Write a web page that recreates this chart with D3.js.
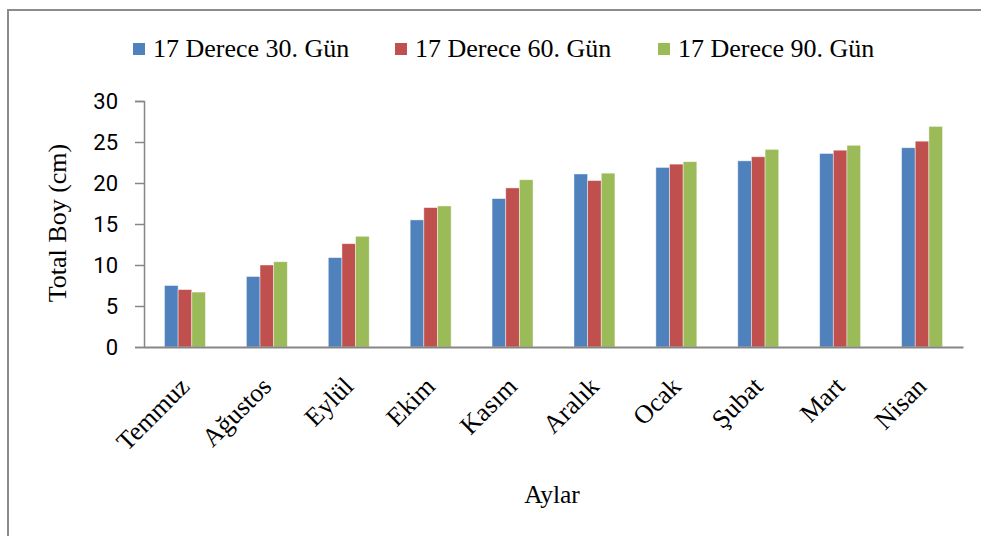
<!DOCTYPE html>
<html>
<head>
<meta charset="utf-8">
<script src="https://cdn.jsdelivr.net/npm/d3@7"></script>
<style>
  html, body { margin: 0; padding: 0; background: #fff; }
  svg { display: block; }
</style>
</head>
<body>
<svg id="chart" width="981" height="536"></svg>
<script>
const categories = ["Temmuz", "Ağustos", "Eylül", "Ekim", "Kasım", "Aralık", "Ocak", "Şubat", "Mart", "Nisan"];
const seriesNames = ["17 Derece 30. Gün", "17 Derece 60. Gün", "17 Derece 90. Gün"];
const series30 = [7.5, 8.6, 10.9, 15.5, 18.1, 21.1, 21.9, 22.7, 23.6, 24.3];
const series60 = [7.0, 10.0, 12.6, 17.0, 19.4, 20.3, 22.3, 23.2, 24.0, 25.1];
const series90 = [6.7, 10.4, 13.5, 17.2, 20.4, 21.2, 22.6, 24.1, 24.6, 26.9];
const yTicks = [0, 5, 10, 15, 20, 25, 30];
const colors = ["#4F81BD", "#C0504D", "#9BBB59"];

const allSeries = [series30, series60, series90];
const svg = d3.select("#chart");
const serif = "'Liberation Serif', 'Times New Roman', serif";
const sans = "Roboto, Arial, sans-serif";

// outer frame
svg.append("rect")
  .attr("x", 8).attr("y", 10)
  .attr("width", 1100).attr("height", 700)
  .attr("fill", "none").attr("stroke", "#8c8c8c").attr("stroke-width", 2);

const plot = { left: 144, right: 963, top: 101, bottom: 347 };

const x0 = d3.scaleBand().domain(categories)
  .range([plot.left, plot.right]).paddingInner(0.5).paddingOuter(0.25);
const x1 = d3.scaleBand().domain(d3.range(seriesNames.length))
  .range([0, x0.bandwidth()]);
const y = d3.scaleLinear().domain([0, 30]).range([plot.bottom, plot.top]);

// bars
const groups = svg.append("g").selectAll("g").data(categories).join("g")
  .attr("transform", d => `translate(${x0(d)},0)`);
groups.selectAll("rect")
  .data((d, i) => allSeries.map((s, k) => ({ k, v: s[i] })))
  .join("rect")
  .attr("x", d => x1(d.k))
  .attr("y", d => y(d.v))
  .attr("width", x1.bandwidth())
  .attr("height", d => y(0) - y(d.v))
  .attr("fill", d => colors[d.k])
  .attr("stroke", "#ffffff").attr("stroke-opacity", 0.55).attr("stroke-width", 0.8);

// y axis
const yAxis = d3.axisLeft(y).tickValues(yTicks).tickSize(9).tickPadding(17);
const yg = svg.append("g").attr("transform", `translate(${plot.left},0)`).call(yAxis);
yg.select(".domain").attr("stroke", "#868686").attr("stroke-width", 1.5);
yg.selectAll(".tick line").attr("stroke", "#868686").attr("stroke-width", 1.5);
yg.selectAll(".tick text").attr("font-family", sans).attr("font-size", 22).attr("fill", "#000");

// x axis line
const xAxis = d3.axisBottom(x0).tickSize(0).tickSizeOuter(0).tickFormat("");
const xg = svg.append("g").attr("transform", `translate(0,${plot.bottom})`).call(xAxis);
xg.select(".domain").attr("stroke", "#868686").attr("stroke-width", 2.2);

// x labels
svg.append("g").selectAll("text").data(categories).join("text")
  .attr("transform", d => `translate(${x0(d) + x0.bandwidth() / 2 + 6},${plot.bottom + 41}) rotate(-45)`)
  .attr("text-anchor", "end")
  .attr("font-family", serif).attr("font-size", 26).attr("fill", "#000")
  .text(d => d);

// axis titles
svg.append("text")
  .attr("transform", `translate(66,223) rotate(-90)`)
  .attr("text-anchor", "middle")
  .attr("font-family", serif).attr("font-size", 26).attr("fill", "#000")
  .text("Total Boy (cm)");
svg.append("text")
  .attr("x", 552).attr("y", 503)
  .attr("text-anchor", "middle")
  .attr("font-family", serif).attr("font-size", 25.5).attr("fill", "#000")
  .text("Aylar");

// legend
const legendX = [133, 395, 658];
const leg = svg.append("g").selectAll("g").data(seriesNames).join("g")
  .attr("transform", (d, i) => `translate(${legendX[i]},0)`);
leg.append("rect").attr("x", 0).attr("y", 43).attr("width", 12).attr("height", 12)
  .attr("fill", (d, i) => colors[i]);
leg.append("text").attr("x", 20).attr("y", 57)
  .attr("font-family", serif).attr("font-size", 26).attr("fill", "#000")
  .text(d => d);
</script>
</body>
</html>
